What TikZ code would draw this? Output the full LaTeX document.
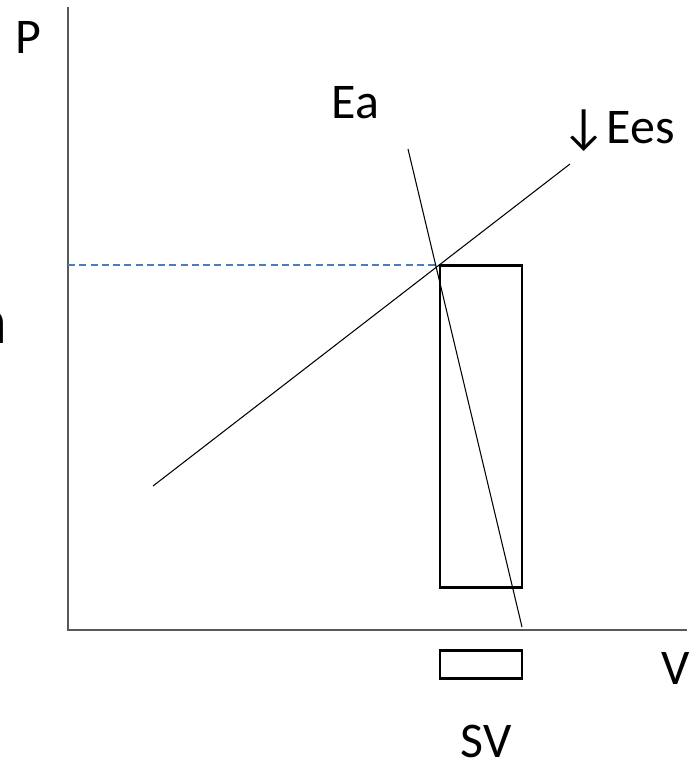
\documentclass[tikz,border=0pt]{standalone}
\usepackage{fontspec}
\setmainfont{Carlito}
\definecolor{axisgray}{HTML}{595959}
\definecolor{guideblue}{HTML}{4A7EBB}
\begin{document}
\begin{tikzpicture}[x=0.01cm, y=-0.01cm,
  axis/.style={draw=axisgray, line width=0.45pt},
  curve/.style={draw=black, line width=0.3pt},
  box/.style={draw=black, line width=0.85pt},
  guide/.style={draw=guideblue, line width=0.3pt, dash pattern=on 2pt off 1.2pt},
  lbl/.style={font=\fontsize{14.2}{17}\selectfont, inner sep=0pt, anchor=base west}]
  \useasboundingbox (0,0) rectangle (700,766);
  \coordinate (origin) at (68,630);
  \coordinate (ytop) at (68,7);
  \coordinate (xend) at (687,630);
  \coordinate (ees0) at (153,486);
  \coordinate (ees1) at (570,164);
  \coordinate (ea0) at (408,149);
  \coordinate (ea1) at (522,627);
  \coordinate (edv) at (440,265);
  \coordinate (pleft) at (68,265);
  \draw[axis] (ytop) -- (origin) -- (xend);
  \draw[guide] (pleft) -- (edv);
  \draw[curve] (ees0) -- (ees1);
  \draw[curve] (ea0) -- (ea1);
  \draw[box] (edv) rectangle (522,587);
  \draw[box] (440,650) rectangle (522,678);
  \node[lbl] (plabel) at (15,53) {P};
  \node[lbl] (ealabel) at (331,118) {Ea};
  \node[lbl] (eeslabel) at (561,143) {↓Ees};
  \node[lbl] (vlabel) at (661,684) {V};
  \node[lbl] (svlabel) at (460,757) {SV};
  \node[lbl, font=\fontsize{19}{22}\selectfont, anchor=base east] (alabel) at (8,343) {a};
\end{tikzpicture}
\end{document}
